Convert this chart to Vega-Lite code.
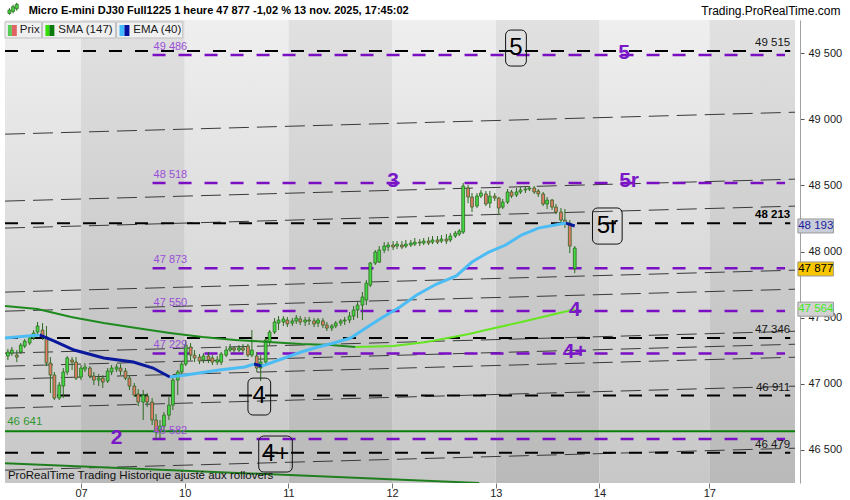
{
  "$schema": "https://vega.github.io/schema/vega-lite/v6.json",
  "width": 800,
  "height": 463,
  "autosize": "none",
  "padding": {"left": 0, "top": 20, "right": 50, "bottom": 17},
  "background": "white",
  "config": {
    "view": {"stroke": null},
    "font": "Liberation Sans",
    "text": {"font": "Liberation Sans"}
  },
  "resolve": {"scale": {"fill": "independent", "color": "independent"}},
  "datasets": {
    "bands": [
      {"t": -0.733, "t2": 0, "shade": "light"},
      {"t": 0, "t2": 1, "shade": "dark"},
      {"t": 1, "t2": 2, "shade": "light"},
      {"t": 2, "t2": 3, "shade": "dark"},
      {"t": 3, "t2": 4, "shade": "light"},
      {"t": 4, "t2": 5, "shade": "dark"},
      {"t": 5, "t2": 6.06, "shade": "light"},
      {"t": 6.06, "t2": 6.886, "shade": "dark"}
    ],
    "fan": [
      {"p": 48887, "p2": 49053}, {"p": 48381, "p2": 48547}, {"p": 48177, "p2": 48343},
      {"p": 47693, "p2": 47859}, {"p": 47549, "p2": 47715}, {"p": 47231, "p2": 47397},
      {"p": 47133, "p2": 47299}, {"p": 47035, "p2": 47201}, {"p": 46816, "p2": 46982},
      {"p": 46347, "p2": 46513}
    ],
    "black": [
      {"p": 49515, "label": "49 515"}, {"p": 48213, "label": "48 213"}, {"p": 47346, "label": "47 346"},
      {"p": 46911, "label": "46 911"}, {"p": 46479, "label": "46 479"}
    ],
    "purple": [
      {"p": 49486, "label": "49 486"}, {"p": 48518, "label": "48 518"}, {"p": 47873, "label": "47 873"},
      {"p": 47550, "label": "47 550"}, {"p": 47229, "label": "47 229"}, {"p": 46582, "label": "46 582"}
    ],
    "support": [{"p": 46641, "label": "46 641"}],
    "trend": [{"t": -0.733, "p": 46400, "t2": 3.84, "p2": 46250}],
    "sma": [
      {"t": -0.733, "v": 47588, "seg": 1, "dir": "down"}, {"t": -0.419, "v": 47565, "seg": 1, "dir": "down"},
      {"t": -0.095, "v": 47505, "seg": 1, "dir": "down"}, {"t": 0.219, "v": 47459, "seg": 1, "dir": "down"},
      {"t": 0.533, "v": 47421, "seg": 1, "dir": "down"}, {"t": 0.857, "v": 47384, "seg": 1, "dir": "down"},
      {"t": 1.171, "v": 47353, "seg": 1, "dir": "down"}, {"t": 1.486, "v": 47331, "seg": 1, "dir": "down"},
      {"t": 1.81, "v": 47316, "seg": 1, "dir": "down"}, {"t": 2.124, "v": 47301, "seg": 1, "dir": "down"},
      {"t": 2.41, "v": 47293, "seg": 1, "dir": "down"}, {"t": 2.648, "v": 47278, "seg": 1, "dir": "down"},
      {"t": 2.648, "v": 47278, "seg": 2, "dir": "up"}, {"t": 3.01, "v": 47285, "seg": 2, "dir": "up"},
      {"t": 3.333, "v": 47316, "seg": 2, "dir": "up"}, {"t": 3.743, "v": 47376, "seg": 2, "dir": "up"},
      {"t": 3.905, "v": 47406, "seg": 2, "dir": "up"}, {"t": 4.248, "v": 47467, "seg": 2, "dir": "up"},
      {"t": 4.695, "v": 47550, "seg": 2, "dir": "up"}, {"t": 4.762, "v": 47564, "seg": 2, "dir": "up"}
    ],
    "ema": [
      {"t": -0.733, "v": 47346, "seg": 1, "dir": "up"}, {"t": -0.4, "v": 47369, "seg": 1, "dir": "up"},
      {"t": -0.4, "v": 47369, "seg": 2, "dir": "down"}, {"t": -0.257, "v": 47323, "seg": 2, "dir": "down"},
      {"t": -0.067, "v": 47255, "seg": 2, "dir": "down"}, {"t": 0.219, "v": 47195, "seg": 2, "dir": "down"},
      {"t": 0.505, "v": 47164, "seg": 2, "dir": "down"}, {"t": 0.695, "v": 47119, "seg": 2, "dir": "down"},
      {"t": 0.857, "v": 47051, "seg": 2, "dir": "down"},
      {"t": 0.857, "v": 47051, "seg": 3, "dir": "up"}, {"t": 1.01, "v": 47066, "seg": 3, "dir": "up"},
      {"t": 1.333, "v": 47104, "seg": 3, "dir": "up"}, {"t": 1.581, "v": 47127, "seg": 3, "dir": "up"},
      {"t": 1.667, "v": 47149, "seg": 3, "dir": "up"},
      {"t": 1.667, "v": 47149, "seg": 4, "dir": "down"}, {"t": 1.743, "v": 47134, "seg": 4, "dir": "down"},
      {"t": 1.743, "v": 47134, "seg": 5, "dir": "up"}, {"t": 1.962, "v": 47195, "seg": 5, "dir": "up"},
      {"t": 2.124, "v": 47240, "seg": 5, "dir": "up"}, {"t": 2.286, "v": 47278, "seg": 5, "dir": "up"},
      {"t": 2.438, "v": 47308, "seg": 5, "dir": "up"}, {"t": 2.6, "v": 47346, "seg": 5, "dir": "up"},
      {"t": 2.762, "v": 47429, "seg": 5, "dir": "up"}, {"t": 2.914, "v": 47505, "seg": 5, "dir": "up"},
      {"t": 3.076, "v": 47580, "seg": 5, "dir": "up"}, {"t": 3.238, "v": 47671, "seg": 5, "dir": "up"},
      {"t": 3.429, "v": 47754, "seg": 5, "dir": "up"}, {"t": 3.619, "v": 47815, "seg": 5, "dir": "up"},
      {"t": 3.771, "v": 47920, "seg": 5, "dir": "up"}, {"t": 3.933, "v": 47996, "seg": 5, "dir": "up"},
      {"t": 4.095, "v": 48049, "seg": 5, "dir": "up"}, {"t": 4.248, "v": 48124, "seg": 5, "dir": "up"},
      {"t": 4.41, "v": 48177, "seg": 5, "dir": "up"}, {"t": 4.571, "v": 48200, "seg": 5, "dir": "up"},
      {"t": 4.676, "v": 48215, "seg": 5, "dir": "up"},
      {"t": 4.676, "v": 48215, "seg": 6, "dir": "down"}, {"t": 4.762, "v": 48193, "seg": 6, "dir": "down"}
    ],
    "candles": [
      {"t": -0.705, "o": 47210, "h": 47263, "l": 47180, "c": 47240},
      {"t": -0.667, "o": 47232, "h": 47278, "l": 47210, "c": 47255},
      {"t": -0.619, "o": 47217, "h": 47255, "l": 47164, "c": 47202},
      {"t": -0.581, "o": 47240, "h": 47308, "l": 47225, "c": 47293},
      {"t": -0.543, "o": 47285, "h": 47339, "l": 47270, "c": 47323},
      {"t": -0.495, "o": 47308, "h": 47369, "l": 47293, "c": 47346},
      {"t": -0.457, "o": 47346, "h": 47406, "l": 47331, "c": 47384},
      {"t": -0.419, "o": 47391, "h": 47467, "l": 47376, "c": 47437},
      {"t": -0.371, "o": 47406, "h": 47459, "l": 47331, "c": 47361},
      {"t": -0.333, "o": 47354, "h": 47437, "l": 47134, "c": 47157},
      {"t": -0.295, "o": 47157, "h": 47202, "l": 46930, "c": 47066},
      {"t": -0.257, "o": 47066, "h": 47089, "l": 46877, "c": 46892},
      {"t": -0.21, "o": 46892, "h": 47013, "l": 46877, "c": 46990},
      {"t": -0.171, "o": 46983, "h": 47119, "l": 46892, "c": 47089},
      {"t": -0.133, "o": 47089, "h": 47210, "l": 47066, "c": 47195},
      {"t": -0.086, "o": 47180, "h": 47202, "l": 47104, "c": 47164},
      {"t": -0.048, "o": 47164, "h": 47202, "l": 47028, "c": 47043},
      {"t": 0, "o": 47051, "h": 47142, "l": 47028, "c": 47119},
      {"t": 0.038, "o": 47111, "h": 47157, "l": 47089, "c": 47127},
      {"t": 0.086, "o": 47119, "h": 47134, "l": 47043, "c": 47059},
      {"t": 0.124, "o": 47059, "h": 47089, "l": 46990, "c": 47028},
      {"t": 0.171, "o": 47028, "h": 47074, "l": 46983, "c": 47043},
      {"t": 0.21, "o": 47043, "h": 47066, "l": 46968, "c": 47013},
      {"t": 0.257, "o": 47021, "h": 47119, "l": 47006, "c": 47096},
      {"t": 0.295, "o": 47089, "h": 47142, "l": 47066, "c": 47119},
      {"t": 0.343, "o": 47111, "h": 47149, "l": 47089, "c": 47127},
      {"t": 0.381, "o": 47119, "h": 47149, "l": 47066, "c": 47096},
      {"t": 0.429, "o": 47096, "h": 47119, "l": 47028, "c": 47043},
      {"t": 0.467, "o": 47043, "h": 47066, "l": 46953, "c": 46983},
      {"t": 0.514, "o": 46983, "h": 47006, "l": 46900, "c": 46915},
      {"t": 0.552, "o": 46923, "h": 46960, "l": 46831, "c": 46862},
      {"t": 0.6, "o": 46862, "h": 46953, "l": 46726, "c": 46915},
      {"t": 0.638, "o": 46907, "h": 46930, "l": 46824, "c": 46862},
      {"t": 0.686, "o": 46862, "h": 46892, "l": 46688, "c": 46726},
      {"t": 0.724, "o": 46726, "h": 46771, "l": 46582, "c": 46635},
      {"t": 0.762, "o": 46650, "h": 46726, "l": 46590, "c": 46680},
      {"t": 0.8, "o": 46680, "h": 46786, "l": 46650, "c": 46763},
      {"t": 0.848, "o": 46763, "h": 46900, "l": 46726, "c": 46839},
      {"t": 0.886, "o": 46839, "h": 47066, "l": 46801, "c": 47028},
      {"t": 0.933, "o": 47028, "h": 47104, "l": 46915, "c": 47089},
      {"t": 0.971, "o": 47089, "h": 47164, "l": 47059, "c": 47149},
      {"t": 1.01, "o": 47149, "h": 47331, "l": 47134, "c": 47293},
      {"t": 1.057, "o": 47278, "h": 47308, "l": 47180, "c": 47217},
      {"t": 1.095, "o": 47217, "h": 47255, "l": 47164, "c": 47195},
      {"t": 1.143, "o": 47202, "h": 47225, "l": 47149, "c": 47172},
      {"t": 1.181, "o": 47180, "h": 47232, "l": 47157, "c": 47210},
      {"t": 1.229, "o": 47210, "h": 47240, "l": 47157, "c": 47180},
      {"t": 1.267, "o": 47195, "h": 47217, "l": 47142, "c": 47164},
      {"t": 1.314, "o": 47164, "h": 47210, "l": 47142, "c": 47180},
      {"t": 1.352, "o": 47164, "h": 47240, "l": 47142, "c": 47225},
      {"t": 1.4, "o": 47217, "h": 47285, "l": 47202, "c": 47255},
      {"t": 1.438, "o": 47255, "h": 47301, "l": 47240, "c": 47270},
      {"t": 1.476, "o": 47270, "h": 47285, "l": 47232, "c": 47255},
      {"t": 1.524, "o": 47255, "h": 47293, "l": 47240, "c": 47270},
      {"t": 1.562, "o": 47270, "h": 47301, "l": 47232, "c": 47255},
      {"t": 1.61, "o": 47285, "h": 47301, "l": 47202, "c": 47217},
      {"t": 1.648, "o": 47217, "h": 47406, "l": 47202, "c": 47255},
      {"t": 1.695, "o": 47210, "h": 47240, "l": 47089, "c": 47119},
      {"t": 1.733, "o": 47119, "h": 47217, "l": 47021, "c": 47164},
      {"t": 1.781, "o": 47164, "h": 47346, "l": 47134, "c": 47331},
      {"t": 1.819, "o": 47316, "h": 47406, "l": 47293, "c": 47391},
      {"t": 1.867, "o": 47391, "h": 47497, "l": 47376, "c": 47467},
      {"t": 1.905, "o": 47459, "h": 47512, "l": 47406, "c": 47482},
      {"t": 1.952, "o": 47467, "h": 47512, "l": 47437, "c": 47490},
      {"t": 1.99, "o": 47482, "h": 47505, "l": 47429, "c": 47452},
      {"t": 2.038, "o": 47459, "h": 47497, "l": 47437, "c": 47475},
      {"t": 2.076, "o": 47475, "h": 47520, "l": 47452, "c": 47497},
      {"t": 2.114, "o": 47490, "h": 47512, "l": 47444, "c": 47467},
      {"t": 2.162, "o": 47467, "h": 47505, "l": 47437, "c": 47482},
      {"t": 2.2, "o": 47482, "h": 47505, "l": 47444, "c": 47475},
      {"t": 2.248, "o": 47475, "h": 47497, "l": 47429, "c": 47452},
      {"t": 2.286, "o": 47459, "h": 47497, "l": 47429, "c": 47482},
      {"t": 2.333, "o": 47475, "h": 47497, "l": 47421, "c": 47444},
      {"t": 2.371, "o": 47444, "h": 47467, "l": 47399, "c": 47421},
      {"t": 2.419, "o": 47421, "h": 47452, "l": 47399, "c": 47437},
      {"t": 2.457, "o": 47437, "h": 47475, "l": 47421, "c": 47459},
      {"t": 2.505, "o": 47459, "h": 47490, "l": 47437, "c": 47475},
      {"t": 2.543, "o": 47475, "h": 47505, "l": 47444, "c": 47482},
      {"t": 2.59, "o": 47482, "h": 47543, "l": 47459, "c": 47512},
      {"t": 2.629, "o": 47512, "h": 47588, "l": 47482, "c": 47558},
      {"t": 2.667, "o": 47558, "h": 47618, "l": 47497, "c": 47595},
      {"t": 2.714, "o": 47595, "h": 47694, "l": 47482, "c": 47656},
      {"t": 2.752, "o": 47633, "h": 47784, "l": 47595, "c": 47761},
      {"t": 2.79, "o": 47746, "h": 47920, "l": 47731, "c": 47913},
      {"t": 2.838, "o": 47913, "h": 48011, "l": 47898, "c": 47996},
      {"t": 2.876, "o": 47920, "h": 48041, "l": 47913, "c": 48011},
      {"t": 2.924, "o": 48011, "h": 48071, "l": 47988, "c": 48041},
      {"t": 2.962, "o": 48034, "h": 48071, "l": 48003, "c": 48049},
      {"t": 3.01, "o": 48049, "h": 48079, "l": 48011, "c": 48034},
      {"t": 3.048, "o": 48041, "h": 48079, "l": 48018, "c": 48056},
      {"t": 3.095, "o": 48049, "h": 48079, "l": 48018, "c": 48034},
      {"t": 3.133, "o": 48041, "h": 48087, "l": 48026, "c": 48056},
      {"t": 3.181, "o": 48049, "h": 48087, "l": 48034, "c": 48064},
      {"t": 3.219, "o": 48056, "h": 48102, "l": 48041, "c": 48071},
      {"t": 3.267, "o": 48071, "h": 48094, "l": 48041, "c": 48064},
      {"t": 3.305, "o": 48064, "h": 48102, "l": 48049, "c": 48079},
      {"t": 3.352, "o": 48079, "h": 48109, "l": 48049, "c": 48064},
      {"t": 3.39, "o": 48071, "h": 48117, "l": 48056, "c": 48087},
      {"t": 3.438, "o": 48087, "h": 48117, "l": 48056, "c": 48071},
      {"t": 3.476, "o": 48079, "h": 48124, "l": 48064, "c": 48094},
      {"t": 3.524, "o": 48094, "h": 48132, "l": 48056, "c": 48079},
      {"t": 3.562, "o": 48087, "h": 48139, "l": 48071, "c": 48117},
      {"t": 3.61, "o": 48117, "h": 48155, "l": 48102, "c": 48139},
      {"t": 3.648, "o": 48132, "h": 48170, "l": 48117, "c": 48155},
      {"t": 3.686, "o": 48147, "h": 48518, "l": 48132, "c": 48495},
      {"t": 3.733, "o": 48480, "h": 48503, "l": 48366, "c": 48412},
      {"t": 3.771, "o": 48412, "h": 48442, "l": 48298, "c": 48336},
      {"t": 3.819, "o": 48344, "h": 48442, "l": 48329, "c": 48419},
      {"t": 3.857, "o": 48419, "h": 48465, "l": 48404, "c": 48442},
      {"t": 3.905, "o": 48435, "h": 48457, "l": 48344, "c": 48359},
      {"t": 3.943, "o": 48366, "h": 48457, "l": 48329, "c": 48419},
      {"t": 3.99, "o": 48419, "h": 48442, "l": 48382, "c": 48404},
      {"t": 4.029, "o": 48404, "h": 48412, "l": 48276, "c": 48329},
      {"t": 4.067, "o": 48336, "h": 48397, "l": 48321, "c": 48374},
      {"t": 4.114, "o": 48374, "h": 48472, "l": 48359, "c": 48450},
      {"t": 4.152, "o": 48450, "h": 48465, "l": 48404, "c": 48419},
      {"t": 4.2, "o": 48427, "h": 48480, "l": 48412, "c": 48450},
      {"t": 4.238, "o": 48450, "h": 48487, "l": 48435, "c": 48465},
      {"t": 4.286, "o": 48465, "h": 48495, "l": 48442, "c": 48472},
      {"t": 4.324, "o": 48472, "h": 48495, "l": 48457, "c": 48480},
      {"t": 4.371, "o": 48480, "h": 48495, "l": 48435, "c": 48450},
      {"t": 4.41, "o": 48457, "h": 48472, "l": 48412, "c": 48435},
      {"t": 4.457, "o": 48435, "h": 48450, "l": 48344, "c": 48359},
      {"t": 4.495, "o": 48359, "h": 48412, "l": 48321, "c": 48389},
      {"t": 4.543, "o": 48389, "h": 48397, "l": 48314, "c": 48336},
      {"t": 4.581, "o": 48336, "h": 48359, "l": 48283, "c": 48298},
      {"t": 4.629, "o": 48298, "h": 48329, "l": 48208, "c": 48238},
      {"t": 4.667, "o": 48238, "h": 48321, "l": 48177, "c": 48215},
      {"t": 4.714, "o": 48215, "h": 48238, "l": 47988, "c": 48041},
      {"t": 4.762, "o": 47870, "h": 48041, "l": 47837, "c": 48026}
    ],
    "waves": [
      {"t": 5.238, "p": 49500, "label": "5"}, {"t": 5.286, "p": 48533, "label": "5r"},
      {"t": 3.01, "p": 48533, "label": "3"}, {"t": 4.762, "p": 47557, "label": "4"},
      {"t": 4.762, "p": 47240, "label": "4+"}, {"t": 0.343, "p": 46590, "label": "2"}
    ],
    "boxes": [
      {"t": 4.095, "t2": 4.295, "p": 49674, "p2": 49402, "tc": 4.195, "pc": 49538, "label": "5"},
      {"t": 4.933, "t2": 5.219, "p": 48329, "p2": 48056, "tc": 5.076, "pc": 48193, "label": "5r"},
      {"t": 1.61, "t2": 1.829, "p": 47043, "p2": 46764, "tc": 1.719, "pc": 46904, "label": "4"},
      {"t": 1.714, "t2": 2.038, "p": 46605, "p2": 46333, "tc": 1.876, "pc": 46469, "label": "4+"}
    ],
    "badges": [
      {"t": 6.914, "t2": 7.257, "p": 48140, "p2": 48246, "tc": 7.086, "pc": 48193, "label": "48 193", "k": "ema"},
      {"t": 6.914, "t2": 7.257, "p": 47815, "p2": 47921, "tc": 7.086, "pc": 47868, "label": "47 877", "k": "last"},
      {"t": 6.914, "t2": 7.257, "p": 47511, "p2": 47617, "tc": 7.086, "pc": 47564, "label": "47 564", "k": "sma"}
    ],
    "icon": [
      {"t": -0.69, "lo": 49790, "hi": 49840, "o": 49800, "c": 49825},
      {"t": -0.655, "lo": 49800, "hi": 49865, "o": 49815, "c": 49850},
      {"t": -0.62, "lo": 49820, "hi": 49880, "o": 49835, "c": 49868}
    ],
    "lgbox": [
      {"t": -0.733, "t2": -0.381}, {"t": -0.371, "t2": 0.333}, {"t": 0.343, "t2": 0.981}
    ],
    "lgsw": [
      {"t": -0.705, "t2": -0.667, "k": "a"}, {"t": -0.667, "t2": -0.619, "k": "b"},
      {"t": -0.343, "t2": -0.305, "k": "c"}, {"t": -0.305, "t2": -0.257, "k": "d"},
      {"t": 0.371, "t2": 0.419, "k": "e"}, {"t": 0.419, "t2": 0.467, "k": "f"}
    ],
    "lgtext": [
      {"t": -0.59, "label": "Prix"}, {"t": -0.219, "label": "SMA (147)"}, {"t": 0.505, "label": "EMA (40)"}
    ],
    "texts": [
      {"t": -0.505, "p": 49818, "label": "Micro E-mini DJ30 Full1225 1 heure 47 877 -1,02 % 13 nov. 2025, 17:45:02", "k": "title"},
      {"t": 7.324, "p": 49818, "label": "Trading.ProRealTime.com", "k": "site"},
      {"t": -0.705, "p": 46303, "label": "ProRealTime Trading  Historique ajusté aux rollovers", "k": "foot"}
    ]
  },
  "layer": [
    {
      "data": {"name": "bands"},
      "transform": [{"filter": "datum.shade == 'light'"}],
      "mark": {"type": "rect", "fill": {"gradient": "linear", "x1": 0, "y1": 0, "x2": 0, "y2": 1,
        "stops": [{"offset": 0, "color": "#efefef"}, {"offset": 1, "color": "#c7c7c7"}]}},
      "encoding": {
        "x": {"field": "t", "type": "quantitative",
          "scale": {"domain": [-0.733, 6.886], "nice": false, "zero": false},
          "axis": {"title": null, "values": [0, 1, 2, 3, 4, 5, 6.06],
            "labelExpr": "['07','10','11','12','13','14','17'][round(datum.value)]",
            "grid": false, "domain": false, "tickSize": 5, "tickColor": "#777",
            "labelFontSize": 11, "labelColor": "#222", "labelPadding": -1, "labelFont": "Liberation Sans"}},
        "x2": {"field": "t2"},
        "y": {"datum": 46250, "type": "quantitative",
          "scale": {"domain": [46250, 49750], "nice": false, "zero": false},
          "axis": {"title": null, "orient": "right",
            "values": [46500, 47000, 47500, 48000, 48500, 49000, 49500],
            "labelExpr": "replace(format(datum.value, ','), ',', ' ')",
            "grid": false, "domain": true, "domainColor": "#a0a0a0", "tickSize": 4, "tickColor": "#555",
            "labelFontSize": 11, "labelColor": "#1a1a1a", "labelPadding": 4, "labelFont": "Liberation Sans"}},
        "y2": {"datum": 49750}
      }
    },
    {
      "data": {"name": "bands"},
      "transform": [{"filter": "datum.shade == 'dark'"}],
      "mark": {"type": "rect", "fill": {"gradient": "linear", "x1": 0, "y1": 0, "x2": 0, "y2": 1,
        "stops": [{"offset": 0, "color": "#e1e1e1"}, {"offset": 1, "color": "#b9b9b9"}]}},
      "encoding": {
        "x": {"field": "t", "type": "quantitative"},
        "x2": {"field": "t2"},
        "y": {"datum": 46250, "type": "quantitative"},
        "y2": {"datum": 49750}
      }
    },
    {
      "data": {"name": "fan"},
      "mark": {"type": "rule", "color": "#3a3a3a", "strokeWidth": 1, "strokeDash": [20, 8]},
      "encoding": {
        "x": {"datum": -0.733, "type": "quantitative"},
        "x2": {"datum": 6.886},
        "y": {"field": "p", "type": "quantitative"},
        "y2": {"field": "p2"}
      }
    },
    {
      "data": {"name": "support"},
      "mark": {"type": "rule", "color": "#0a800a", "strokeWidth": 2},
      "encoding": {
        "x": {"datum": -0.733, "type": "quantitative"},
        "x2": {"datum": 6.886},
        "y": {"field": "p", "type": "quantitative"}
      }
    },
    {
      "data": {"name": "trend"},
      "mark": {"type": "rule", "color": "#1f7f1f", "strokeWidth": 2, "clip": true},
      "encoding": {
        "x": {"field": "t", "type": "quantitative"},
        "x2": {"field": "t2"},
        "y": {"field": "p", "type": "quantitative"},
        "y2": {"field": "p2"}
      }
    },
    {
      "data": {"name": "black"},
      "mark": {"type": "rule", "color": "#000000", "strokeWidth": 2, "strokeDash": [13, 13]},
      "encoding": {
        "x": {"datum": -0.733, "type": "quantitative"},
        "x2": {"datum": 6.84},
        "y": {"field": "p", "type": "quantitative"}
      }
    },
    {
      "data": {"name": "purple"},
      "mark": {"type": "rule", "color": "#7a0fc4", "strokeWidth": 2.5, "strokeDash": [13, 13]},
      "encoding": {
        "x": {"datum": 0.69, "type": "quantitative"},
        "x2": {"datum": 6.79},
        "y": {"field": "p", "type": "quantitative"}
      }
    },
    {
      "data": {"name": "candles"},
      "mark": {"type": "rule", "color": "#2c6a1e", "strokeWidth": 1},
      "encoding": {
        "x": {"field": "t", "type": "quantitative"},
        "y": {"field": "l", "type": "quantitative"},
        "y2": {"field": "h"}
      }
    },
    {
      "data": {"name": "candles"},
      "mark": {"type": "bar", "size": 2.8, "stroke": "#2c6a1e", "strokeWidth": 0.8},
      "encoding": {
        "x": {"field": "t", "type": "quantitative"},
        "y": {"field": "o", "type": "quantitative"},
        "y2": {"field": "c"},
        "fill": {"condition": {"test": "datum.c >= datum.o", "value": "#43d843"}, "value": "#e6786a"}
      }
    },
    {
      "data": {"name": "sma"},
      "transform": [{"filter": "datum.dir == 'down'"}],
      "mark": {"type": "line", "color": "#1e8a1e", "strokeWidth": 2},
      "encoding": {
        "x": {"field": "t", "type": "quantitative"},
        "y": {"field": "v", "type": "quantitative"},
        "detail": {"field": "seg"},
        "order": {"field": "t"}
      }
    },
    {
      "data": {"name": "sma"},
      "transform": [{"filter": "datum.dir == 'up'"}],
      "mark": {"type": "line", "color": "#66e622", "strokeWidth": 2},
      "encoding": {
        "x": {"field": "t", "type": "quantitative"},
        "y": {"field": "v", "type": "quantitative"},
        "detail": {"field": "seg"},
        "order": {"field": "t"}
      }
    },
    {
      "data": {"name": "ema"},
      "transform": [{"filter": "datum.dir == 'down'"}],
      "mark": {"type": "line", "color": "#0b1a9c", "strokeWidth": 3},
      "encoding": {
        "x": {"field": "t", "type": "quantitative"},
        "y": {"field": "v", "type": "quantitative"},
        "detail": {"field": "seg"},
        "order": {"field": "t"}
      }
    },
    {
      "data": {"name": "ema"},
      "transform": [{"filter": "datum.dir == 'up'"}],
      "mark": {"type": "line", "color": "#4cbcf5", "strokeWidth": 3},
      "encoding": {
        "x": {"field": "t", "type": "quantitative"},
        "y": {"field": "v", "type": "quantitative"},
        "detail": {"field": "seg"},
        "order": {"field": "t"}
      }
    },
    {
      "data": {"name": "purple"},
      "mark": {"type": "text", "align": "left", "baseline": "middle", "dy": -8, "fontSize": 11, "color": "#9a4fd6"},
      "encoding": {
        "x": {"datum": 0.70, "type": "quantitative"},
        "y": {"field": "p", "type": "quantitative"},
        "text": {"field": "label"}
      }
    },
    {
      "data": {"name": "black"},
      "transform": [{"filter": "datum.p != 48213"}],
      "mark": {"type": "text", "align": "right", "baseline": "middle", "dy": -8, "fontSize": 11.5, "color": "#151515"},
      "encoding": {
        "x": {"datum": 6.84, "type": "quantitative"},
        "y": {"field": "p", "type": "quantitative"},
        "text": {"field": "label"}
      }
    },
    {
      "data": {"name": "black"},
      "transform": [{"filter": "datum.p == 48213"}],
      "mark": {"type": "text", "align": "right", "baseline": "middle", "dy": -8, "fontSize": 11.5, "fontWeight": "bold", "color": "#000000"},
      "encoding": {
        "x": {"datum": 6.84, "type": "quantitative"},
        "y": {"field": "p", "type": "quantitative"},
        "text": {"field": "label"}
      }
    },
    {
      "data": {"name": "support"},
      "mark": {"type": "text", "align": "left", "baseline": "middle", "dy": -9, "fontSize": 11.5, "color": "#2f962f"},
      "encoding": {
        "x": {"datum": -0.712, "type": "quantitative"},
        "y": {"field": "p", "type": "quantitative"},
        "text": {"field": "label"}
      }
    },
    {
      "data": {"name": "waves"},
      "mark": {"type": "text", "align": "center", "baseline": "middle", "fontSize": 21, "fontWeight": "bold", "color": "#7a18c8"},
      "encoding": {
        "x": {"field": "t", "type": "quantitative"},
        "y": {"field": "p", "type": "quantitative"},
        "text": {"field": "label"}
      }
    },
    {
      "data": {"name": "boxes"},
      "mark": {"type": "rect", "fillOpacity": 0, "stroke": "#111111", "strokeWidth": 1, "cornerRadius": 5},
      "encoding": {
        "x": {"field": "t", "type": "quantitative"},
        "x2": {"field": "t2"},
        "y": {"field": "p", "type": "quantitative"},
        "y2": {"field": "p2"}
      }
    },
    {
      "data": {"name": "boxes"},
      "mark": {"type": "text", "align": "center", "baseline": "middle", "fontSize": 24, "color": "#000000"},
      "encoding": {
        "x": {"field": "tc", "type": "quantitative"},
        "y": {"field": "pc", "type": "quantitative"},
        "text": {"field": "label"}
      }
    },
    {
      "data": {"name": "lgbox"},
      "mark": {"type": "rect", "fill": "#f0f0f0", "stroke": "#c0c0c0", "strokeWidth": 1},
      "encoding": {
        "x": {"field": "t", "type": "quantitative"},
        "x2": {"field": "t2"},
        "y": {"datum": 49735, "type": "quantitative"},
        "y2": {"datum": 49614}
      }
    },
    {
      "data": {"name": "lgsw"},
      "mark": {"type": "rect"},
      "encoding": {
        "x": {"field": "t", "type": "quantitative"},
        "x2": {"field": "t2"},
        "y": {"datum": 49712, "type": "quantitative"},
        "y2": {"datum": 49629},
        "fill": {"field": "k", "type": "nominal", "legend": null,
          "scale": {"domain": ["a", "b", "c", "d", "e", "f"],
            "range": ["#55cc55", "#e06262", "#33dd00", "#0a7a0a", "#44bbff", "#0010a0"]}}
      }
    },
    {
      "data": {"name": "lgtext"},
      "mark": {"type": "text", "align": "left", "baseline": "middle", "fontSize": 11.5, "color": "#1a1a1a"},
      "encoding": {
        "x": {"field": "t", "type": "quantitative"},
        "y": {"datum": 49674, "type": "quantitative"},
        "text": {"field": "label"}
      }
    },
    {
      "data": {"name": "icon"},
      "mark": {"type": "rule", "color": "#2c6a1e", "strokeWidth": 1},
      "encoding": {
        "x": {"field": "t", "type": "quantitative"},
        "y": {"field": "lo", "type": "quantitative"},
        "y2": {"field": "hi"}
      }
    },
    {
      "data": {"name": "icon"},
      "mark": {"type": "bar", "size": 3, "fill": "#43d843", "stroke": "#2c6a1e", "strokeWidth": 0.8},
      "encoding": {
        "x": {"field": "t", "type": "quantitative"},
        "y": {"field": "o", "type": "quantitative"},
        "y2": {"field": "c"}
      }
    },
    {
      "data": {"name": "texts"},
      "transform": [{"filter": "datum.k == 'title'"}],
      "mark": {"type": "text", "align": "left", "baseline": "middle", "fontSize": 11, "fontWeight": "bold", "color": "#000000"},
      "encoding": {
        "x": {"field": "t", "type": "quantitative"},
        "y": {"field": "p", "type": "quantitative"},
        "text": {"field": "label"}
      }
    },
    {
      "data": {"name": "texts"},
      "transform": [{"filter": "datum.k == 'site'"}],
      "mark": {"type": "text", "align": "right", "baseline": "middle", "fontSize": 12, "color": "#000000"},
      "encoding": {
        "x": {"field": "t", "type": "quantitative"},
        "y": {"field": "p", "type": "quantitative"},
        "text": {"field": "label"}
      }
    },
    {
      "data": {"name": "texts"},
      "transform": [{"filter": "datum.k == 'foot'"}],
      "mark": {"type": "text", "align": "left", "baseline": "middle", "fontSize": 11.5, "color": "#111111"},
      "encoding": {
        "x": {"field": "t", "type": "quantitative"},
        "y": {"field": "p", "type": "quantitative"},
        "text": {"field": "label"}
      }
    },
    {
      "data": {"name": "badges"},
      "mark": {"type": "rect", "stroke": "#9a9a9a", "strokeWidth": 1},
      "encoding": {
        "x": {"field": "t", "type": "quantitative"},
        "x2": {"field": "t2"},
        "y": {"field": "p", "type": "quantitative"},
        "y2": {"field": "p2"},
        "fill": {"field": "k", "type": "nominal", "legend": null,
          "scale": {"domain": ["ema", "last", "sma"], "range": ["#c9ccd9", "#f7c600", "#d2d2d2"]}}
      }
    },
    {
      "data": {"name": "badges"},
      "mark": {"type": "text", "align": "center", "baseline": "middle", "fontSize": 11.5},
      "encoding": {
        "x": {"field": "tc", "type": "quantitative"},
        "y": {"field": "pc", "type": "quantitative"},
        "text": {"field": "label"},
        "color": {"field": "k", "type": "nominal", "legend": null,
          "scale": {"domain": ["ema", "last", "sma"], "range": ["#1a1a9a", "#000000", "#3fe81f"]}}
      }
    }
  ]
}
